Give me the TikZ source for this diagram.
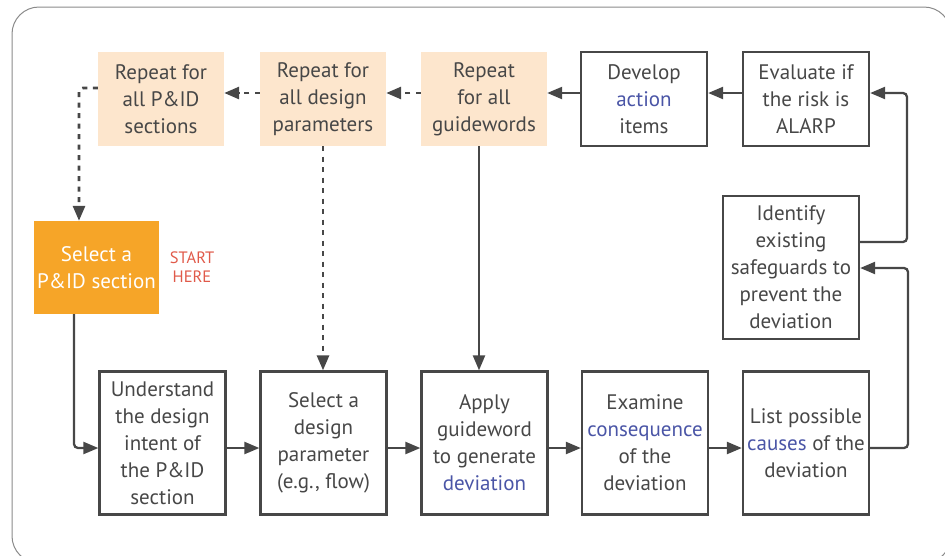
\documentclass[tikz,border=0pt]{standalone}
\usepackage{fontspec}
\setmainfont{PT Sans}
\usetikzlibrary{arrows.meta,calc}
\definecolor{ink}{HTML}{474747}
\definecolor{frame}{HTML}{8A8A8A}
\definecolor{peach}{HTML}{FDE6CD}
\definecolor{amber}{HTML}{F6A528}
\definecolor{hilite}{HTML}{4A55A6}
\definecolor{startred}{HTML}{E05A4A}
\newcommand{\hl}[1]{\textcolor{hilite}{#1}}
\tikzset{
  txt/.style={font=\fontsize{21}{27}\selectfont, align=center, inner sep=0pt},
  plainbox/.style={txt, draw=ink, line width=2.3pt, text=ink, minimum width=126pt, minimum height=94pt},
  tallbox/.style={plainbox, minimum height=143pt},
  repeatbox/.style={txt, fill=peach, text=ink, minimum width=126pt, minimum height=94pt},
  startbox/.style={txt, fill=amber, text=white, minimum width=125pt, minimum height=93pt},
  flow/.style={draw=ink, line width=2.3pt, -{Triangle[width=12pt,length=15pt]}, rounded corners=4pt},
  loopflow/.style={flow, dash pattern=on 5pt off 5.5pt, line width=2.8pt}
}
\begin{document}
\begin{tikzpicture}[x=1pt,y=-1pt]
\useasboundingbox (0,0) rectangle (945,555);
\begin{scope}
  \clip (0,0) rectangle (945,555);
  \draw[frame, line width=1pt, rounded corners=27pt] (12,7) rectangle (951,563);
\end{scope}

% top row
\node[repeatbox] (rp1) at (161,99) {Repeat for\\all P\&ID\\sections};
\node[repeatbox] (rp2) at (323,99) {Repeat for\\all design\\parameters};
\node[repeatbox] (rp3) at (484,99) {Repeat\\for all\\guidewords};
\node[plainbox] (dev) at (644,99) {Develop\\\hl{action}\\items};
\node[plainbox] (eval) at (806,99) {Evaluate if\\the risk is\\ALARP};

% start
\node[startbox] (sel) at (96.5,267.5) {Select a\\P\&ID section};
\node[txt, text=startred, font=\fontsize{16.5}{19}\selectfont] (start) at (192,267) {START\\HERE};

% right column
\node[tallbox, minimum width=136pt] (ident) at (791,267.5) {Identify\\existing\\safeguards to\\prevent the\\deviation};

% bottom row
\node[tallbox] (und) at (162.5,443) {Understand\\the design\\intent of\\the P\&ID\\section};
\node[tallbox] (selp) at (323.5,443) {Select a\\design\\parameter\\(e.g., flow)};
\node[tallbox] (app) at (484.5,443) {Apply\\guideword\\to generate\\\hl{deviation}};
\node[tallbox] (exa) at (645,443) {Examine\\\hl{consequence}\\of the\\deviation};
\node[tallbox] (lst) at (806,443) {List possible\\\hl{causes} of the\\deviation};

% bottom row connectors
\draw[flow] (sel.south -| 74,0) -- (74,448) -- (und.west |- 0,448);
\draw[flow] (und.east |- 0,448) -- (selp.west |- 0,448);
\draw[flow] (selp.east |- 0,448) -- (app.west |- 0,448);
\draw[flow] (app.east |- 0,448) -- (exa.west |- 0,448);
\draw[flow] (exa.east |- 0,448) -- (lst.west |- 0,448);

% return path on the right
\draw[flow] (lst.east |- 0,448) -- (908,448) -- (908,268) -- (ident.east |- 0,268);
\draw[flow] (ident.east |- 0,242) -- (907,242) -- (907,93) -- (eval.east |- 0,93);

% top row connectors
\draw[flow] (eval.west |- 0,93) -- (dev.east |- 0,93);
\draw[flow] (dev.west |- 0,93) -- (rp3.east |- 0,93);
\draw[loopflow] (rp3.west |- 0,93) -- (rp2.east |- 0,93);
\draw[loopflow] (rp2.west |- 0,93) -- (rp1.east |- 0,93);
\draw[loopflow] (rp1.west |- 0,88) -- (79,88) -- (sel.north -| 79,0);

% vertical links into the bottom row
\draw[loopflow, rounded corners=0pt] (rp2.south -| 323,0) -- (selp.north -| 323,0);
\draw[flow] (rp3.south -| 479,0) -- (app.north -| 479,0);
\end{tikzpicture}
\end{document}
